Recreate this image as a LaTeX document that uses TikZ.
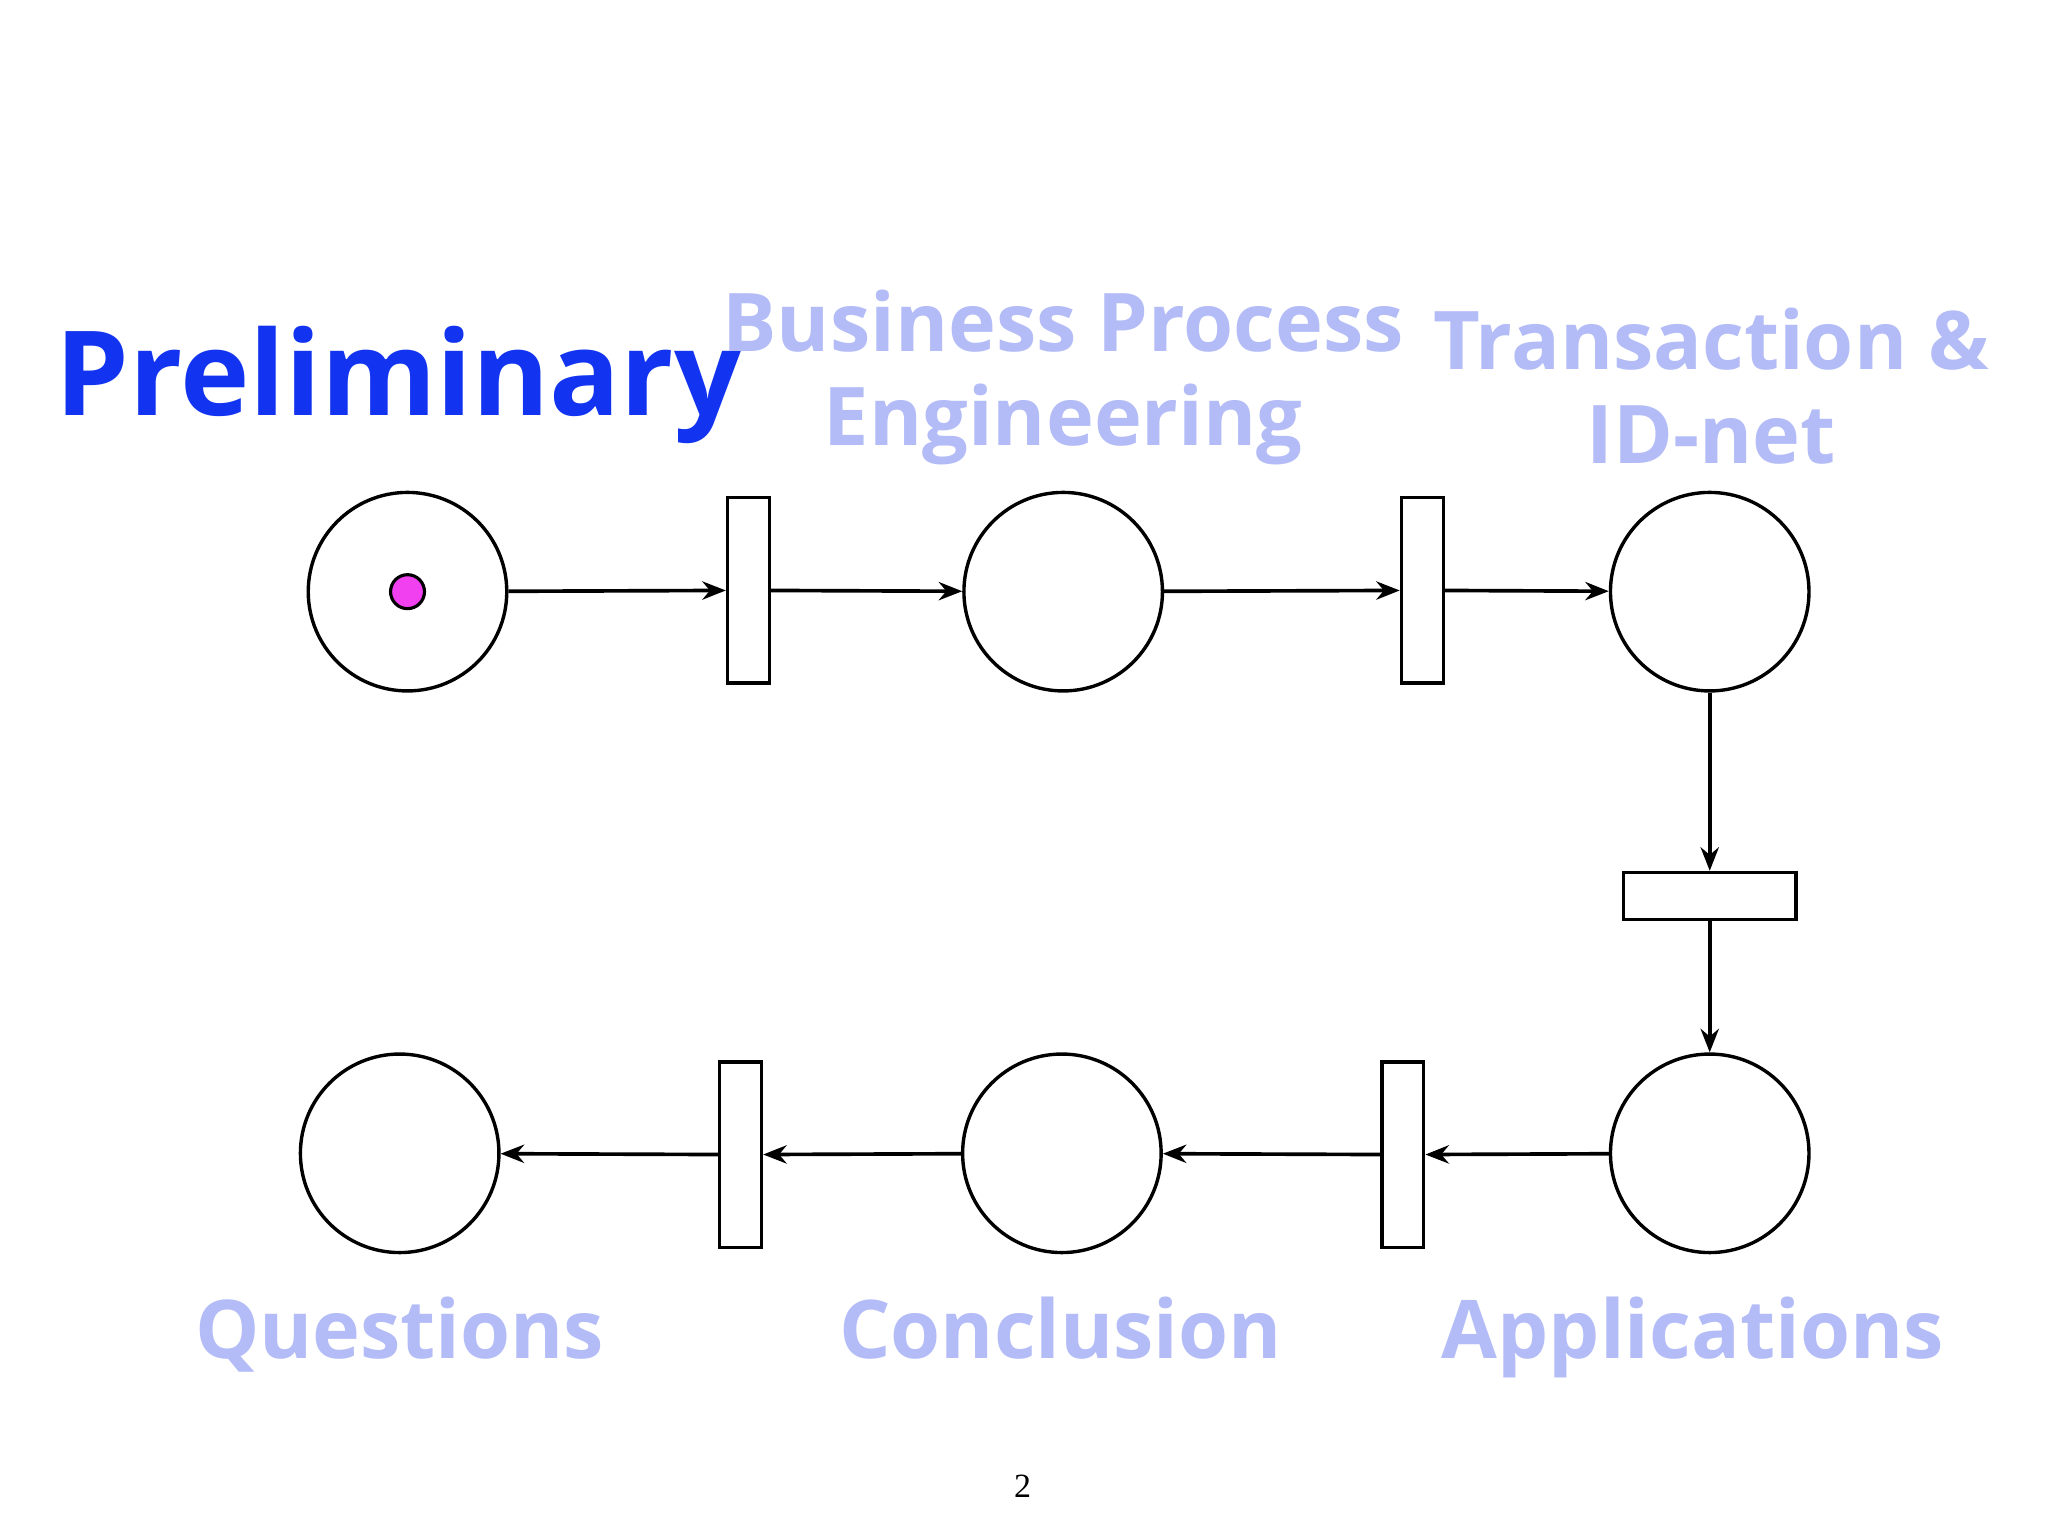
\documentclass[tikz,border=0pt]{standalone}
\usepackage{fontspec}
\setmainfont{Open Sans}
\newfontfamily\serifpg{Liberation Serif}
\usetikzlibrary{arrows.meta}
\definecolor{dblue}{HTML}{1233F0}
\definecolor{lblue}{HTML}{B3BCF7}
\definecolor{tokc}{HTML}{F040F0}
\begin{document}
\begin{tikzpicture}[x=0.5pt,y=-0.5pt,
 place/.style={circle,draw,line width=1.3pt,minimum size=76pt,inner sep=0pt},
 vtr/.style={rectangle,draw,line width=1.3pt,minimum width=16pt,minimum height=71pt,inner sep=0pt},
 htr/.style={rectangle,draw,line width=1.3pt,minimum width=66pt,minimum height=18pt,inner sep=0pt},
 arr/.style={line width=1.4pt,-{Stealth[length=9pt,width=7pt]}},
 lab/.style={font=\fontsize{31}{36}\selectfont\bfseries,text=lblue,align=center}]
\useasboundingbox[fill=white] (0,0) rectangle (1568,1176);
\node[place] (p1) at (312,453) {};
\node[circle,draw,line width=1.2pt,fill=tokc,minimum size=13pt,inner sep=0pt] (tok) at (312,453) {};
\node[vtr] (t1) at (573,452) {};
\node[place] (p2) at (814,453) {};
\node[vtr] (t2) at (1089,452) {};
\node[place] (p3) at (1309,453) {};
\node[htr] (t3) at (1309,686) {};
\node[place] (p4) at (1309,883) {};
\node[vtr] (t4) at (1074,884) {};
\node[place] (p5) at (813,883) {};
\node[vtr] (t5) at (567,884) {};
\node[place] (p6) at (306,883) {};
\draw[arr] (p1) -- (t1);
\draw[arr] (t1) -- (p2);
\draw[arr] (p2) -- (t2);
\draw[arr] (t2) -- (p3);
\draw[arr] (p3) -- (t3);
\draw[arr] (t3) -- (p4);
\draw[arr] (p4) -- (t4);
\draw[arr] (t4) -- (p5);
\draw[arr] (p5) -- (t5);
\draw[arr] (t5) -- (p6);
\node[font=\fontsize{45}{48}\selectfont\bfseries,text=dblue,anchor=base] (pre) at (305,318) {Preliminary};
\node[lab] (bpe) at (814,289) {Business Process\\Engineering};
\node[lab] (tid) at (1310,296) {Transaction \&\\ID-net};
\node[lab,anchor=base] (q) at (306,1040) {Questions};
\node[lab,anchor=base] (c) at (812,1040) {Conclusion};
\node[lab,anchor=base] (a) at (1296,1040) {Applications};
\node[font=\serifpg\fontsize{13}{15}\selectfont] (pg) at (783,1138) {2};
\end{tikzpicture}
\end{document}
